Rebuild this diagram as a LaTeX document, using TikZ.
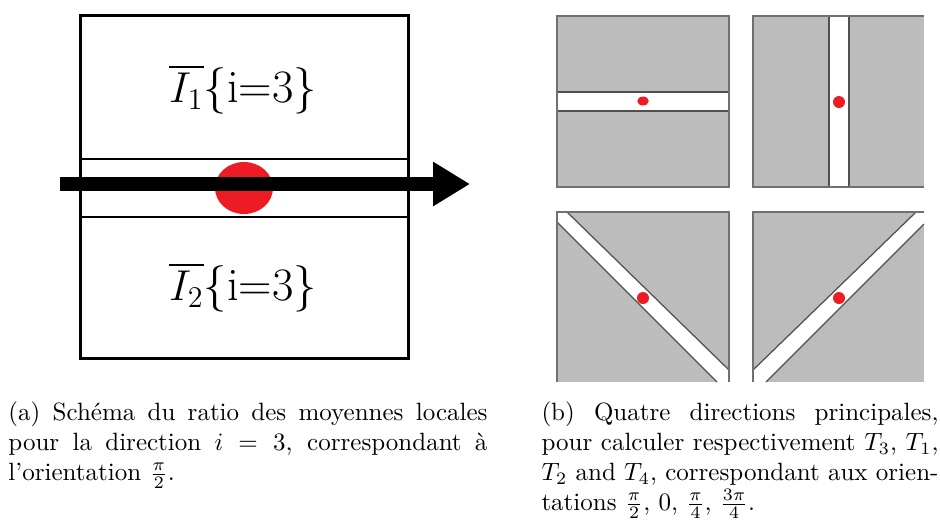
\documentclass[tikz,border=0pt]{standalone}
\usepackage{amsmath,amssymb}
\usepackage{tikz}
\usetikzlibrary{arrows.meta,positioning}
\definecolor{panelgray}{HTML}{BCBCBC}
\definecolor{edgegray}{HTML}{707070}
\definecolor{bandgray}{HTML}{505050}
\definecolor{dotred}{HTML}{ED1C24}
\tikzset{
  framebox/.style={draw=black,line width=1.2pt},
  stripline/.style={draw=black,line width=0.9pt},
  bigarr/.style={-{Triangle[length=14.8pt,width=16.8pt]},line width=5.6pt},
  meanlabel/.style={font=\fontsize{18.6}{22}\selectfont,inner sep=0pt},
  panelfill/.style={fill=panelgray},
  paneledge/.style={draw=edgegray,line width=0.6pt},
  bandedge/.style={draw=bandgray,line width=0.5pt},
  reddot/.style={fill=dotred},
  capbox/.style={anchor=north west,inner sep=0pt,align=justify,font=\normalsize}
}

\begin{document}
\begin{tikzpicture}[x=0.4pt,y=-0.4pt]
  \useasboundingbox (0,0) rectangle (940,523);

  % (a) window with the central strip
  \draw[framebox] (80,15) rectangle (408,358);
  \draw[stripline] (80,159) -- (408,159);
  \draw[stripline] (80,217) -- (408,217);
  \node[meanlabel] (meanup) at (243,89) {$\overline{I_1}$\{i=3\}};
  \node[meanlabel] (meandown) at (243,287) {$\overline{I_2}$\{i=3\}};
  \fill[reddot] (244,188) ellipse [x radius=11.6pt,y radius=10.4pt];
  \coordinate (arrstart) at (60,184);
  \coordinate (arrend) at (470,184);
  \draw[bigarr] (arrstart) -- (arrend);

  % (b) four directions
  % horizontal
  \fill[panelfill] (557,16) rectangle (729,187);
  \fill[white] (557,92) rectangle (729,111);
  \draw[bandedge] (557,92) -- (729,92) (557,111) -- (729,111);
  \draw[paneledge] (557,16) rectangle (729,187);
  \fill[reddot] (643,101) ellipse [x radius=2.3pt,y radius=1.8pt];
  % vertical
  \fill[panelfill] (753,16) rectangle (924,187);
  \fill[white] (829,16) rectangle (849,187);
  \draw[bandedge] (829,16) -- (829,187) (849,16) -- (849,187);
  \draw[paneledge] (924,16) -- (753,16) -- (753,187) -- (924,187);
  \fill[reddot] (839,102) circle [radius=2.4pt];
  % diagonal, top left to bottom right
  \fill[panelfill] (557,212) rectangle (729,382);
  \fill[white] (557,212) -- (567,212) -- (729,370) -- (729,382) -- (717,382) -- (557,222) -- cycle;
  \draw[bandedge] (567,212) -- (729,370) (557,222) -- (717,382);
  \draw[paneledge] (557,382) -- (557,212) -- (729,212) -- (729,382);
  \fill[reddot] (643,298) circle [radius=2.4pt];
  % diagonal, bottom left to top right
  \fill[panelfill] (753,212) rectangle (924,382);
  \fill[white] (753,370) -- (916,212) -- (924,212) -- (924,224) -- (766,382) -- (753,382) -- cycle;
  \draw[bandedge] (753,370) -- (916,212) (766,382) -- (924,224);
  \draw[paneledge] (753,382) -- (753,212) -- (924,212);
  \fill[reddot] (839,298) circle [radius=2.4pt];

  % captions
  \node[capbox,text width=191.6pt] (capa) at (8,401)
    {(a) Schéma du ratio des moyennes locales\linebreak pour la direction $i = 3$, correspondant à\linebreak l'orientation $\frac{\pi}{2}$.};
  \node[capbox,text width=158.8pt] (capb) at (541,401)
    {(b) Quatre directions principales,\linebreak pour calculer respectivement $T_3$, $T_1$,\linebreak $T_2$ and $T_4$, correspondant aux orien-\linebreak tations $\frac{\pi}{2}$, $0$, $\frac{\pi}{4}$, $\frac{3\pi}{4}$.};
\end{tikzpicture}
\end{document}
